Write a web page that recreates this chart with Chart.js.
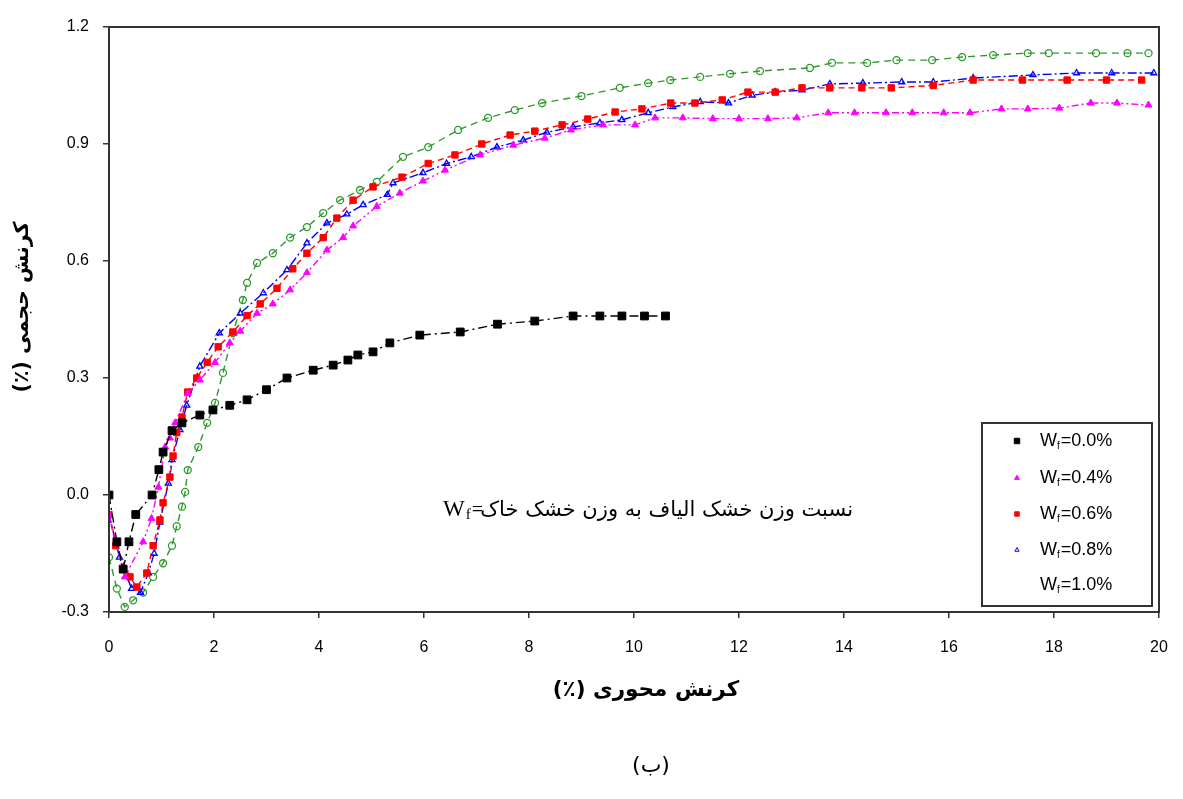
<!DOCTYPE html>
<html>
<head>
<meta charset="utf-8">
<script src="https://cdn.jsdelivr.net/npm/chart.js@4.4.1/dist/chart.umd.min.js"></script>
<style>
  html, body { margin: 0; padding: 0; background: #fff; }
  #wrap { width: 1183px; height: 799px; }
</style>
</head>
<body>
<div id="wrap"><canvas id="chart" width="1183" height="799"></canvas></div>
<script>
// axial strain (%) and volumetric strain (%), one pair per fibre content
const strainW00 = [0, 0.15, 0.27, 0.38, 0.51, 0.82, 0.95, 1.03, 1.2, 1.39, 1.73, 1.98, 2.3, 2.63, 3.0, 3.39, 3.89, 4.27, 4.55, 4.74, 5.03, 5.35, 5.92, 6.69, 7.4, 8.11, 8.84, 9.35, 9.77, 10.2, 10.6]
const volW00 = [0.0, -0.12, -0.19, -0.12, -0.05, 0.0, 0.065, 0.11, 0.165, 0.185, 0.205, 0.218, 0.23, 0.244, 0.27, 0.30, 0.32, 0.333, 0.346, 0.359, 0.367, 0.39, 0.41, 0.418, 0.438, 0.446, 0.459, 0.459, 0.459, 0.459, 0.459]

const strainW04 = [0, 0.3, 0.65, 0.81, 0.94, 1.07, 1.16, 1.26, 1.5, 1.73, 2.02, 2.3, 2.5, 2.82, 3.12, 3.45, 3.77, 4.15, 4.46, 4.65, 5.1, 5.54, 5.98, 6.4, 7.07, 7.7, 8.3, 8.8, 9.41, 10.02, 10.4, 10.93, 11.5, 12.0, 12.55, 13.1, 13.7, 14.2, 14.8, 15.3, 15.9, 16.4, 17.0, 17.5, 18.1, 18.7, 19.2, 19.8]
const volW04 = [-0.05, -0.21, -0.12, -0.06, 0.02, 0.123, 0.146, 0.185, 0.26, 0.295, 0.34, 0.39, 0.42, 0.466, 0.49, 0.526, 0.57, 0.628, 0.66, 0.69, 0.74, 0.774, 0.805, 0.833, 0.872, 0.897, 0.915, 0.936, 0.949, 0.949, 0.967, 0.967, 0.965, 0.965, 0.965, 0.967, 0.98, 0.98, 0.98, 0.98, 0.98, 0.98, 0.99, 0.99, 0.992, 1.005, 1.005, 1.0]

const strainW06 = [0, 0.13, 0.4, 0.53, 0.72, 0.84, 0.97, 1.03, 1.16, 1.22, 1.29, 1.39, 1.5, 1.67, 1.87, 2.08, 2.36, 2.63, 2.88, 3.2, 3.5, 3.77, 4.08, 4.34, 4.65, 5.03, 5.58, 6.08, 6.59, 7.1, 7.64, 8.11, 8.63, 9.12, 9.64, 10.15, 10.7, 11.16, 11.68, 12.17, 12.69, 13.2, 13.73, 14.34, 14.9, 15.7, 16.46, 17.4, 18.25, 19.0, 19.67]
const volW06 = [-0.05, -0.13, -0.21, -0.236, -0.2, -0.13, -0.064, -0.02, 0.046, 0.1, 0.16, 0.2, 0.264, 0.3, 0.34, 0.38, 0.418, 0.46, 0.49, 0.53, 0.58, 0.62, 0.66, 0.71, 0.756, 0.79, 0.815, 0.85, 0.872, 0.9, 0.923, 0.933, 0.949, 0.964, 0.982, 0.99, 1.005, 1.005, 1.013, 1.033, 1.033, 1.044, 1.044, 1.044, 1.044, 1.05, 1.064, 1.064, 1.064, 1.064, 1.064]

const strainW08 = [0, 0.2, 0.43, 0.6, 0.75, 0.86, 0.97, 1.13, 1.2, 1.35, 1.48, 1.73, 2.1, 2.5, 2.94, 3.39, 3.77, 4.15, 4.53, 4.84, 5.3, 5.41, 5.98, 6.43, 6.9, 7.39, 7.89, 8.34, 8.84, 9.35, 9.77, 10.27, 10.74, 11.26, 11.8, 12.25, 12.69, 13.2, 13.73, 14.36, 15.1, 15.7, 16.46, 17.6, 18.43, 19.1, 19.9]
const volW08 = [-0.05, -0.16, -0.24, -0.25, -0.2, -0.15, -0.07, 0.03, 0.09, 0.167, 0.23, 0.33, 0.415, 0.466, 0.518, 0.577, 0.646, 0.697, 0.72, 0.744, 0.77, 0.8, 0.826, 0.85, 0.867, 0.892, 0.91, 0.93, 0.944, 0.954, 0.962, 0.98, 0.995, 1.008, 1.005, 1.025, 1.033, 1.038, 1.054, 1.056, 1.059, 1.059, 1.069, 1.077, 1.082, 1.082, 1.082]

const strainW10 = [0, 0.15, 0.3, 0.46, 0.65, 0.84, 1.03, 1.2, 1.29, 1.39, 1.45, 1.5, 1.7, 1.87, 2.02, 2.17, 2.36, 2.55, 2.63, 2.82, 3.12, 3.45, 3.77, 4.08, 4.4, 4.78, 5.1, 5.6, 6.08, 6.65, 7.22, 7.73, 8.25, 9.0, 9.73, 10.27, 10.69, 11.26, 11.83, 12.4, 13.35, 13.77, 14.44, 15.0, 15.68, 16.25, 16.84, 17.5, 17.9, 18.8, 19.4, 19.8]
const volW10 = [-0.16, -0.24, -0.287, -0.27, -0.25, -0.21, -0.175, -0.13, -0.08, -0.03, 0.008, 0.064, 0.123, 0.185, 0.236, 0.313, 0.415, 0.5, 0.544, 0.595, 0.62, 0.66, 0.687, 0.723, 0.756, 0.782, 0.803, 0.867, 0.892, 0.936, 0.967, 0.987, 1.005, 1.023, 1.044, 1.056, 1.064, 1.072, 1.08, 1.087, 1.095, 1.108, 1.108, 1.115, 1.115, 1.123, 1.128, 1.133, 1.133, 1.133, 1.133, 1.133]

const seriesLabels = ['0.0%', '0.4%', '0.6%', '0.8%', '1.0%']
const xTickValues = [0, 2, 4, 6, 8, 10, 12, 14, 16, 18, 20]
const yTickValues = [-0.3, 0.0, 0.3, 0.6, 0.9, 1.2]

const xTitle = 'کرنش محوری (٪)'
const yTitle = 'کرنش حجمی (٪)'
const noteText = 'نسبت وزن خشک الیاف به وزن خشک خاک'
const caption = '(ب)'

const pairs = (xs, ys) => xs.map((x, i) => ({ x: x, y: ys[i] }))

const styles = [
    { color: '#000000', point: 'rect', radius: 5.5, fill: true, dash: [9, 4, 2, 4] },
    { color: '#ff00ff', point: 'triangle', radius: 4, fill: true, dash: [7, 3, 2, 3, 2, 3] },
    { color: '#ff0000', point: 'rect', radius: 4.5, fill: true, dash: [6, 4] },
    { color: '#0000ff', point: 'triangle', radius: 3.5, fill: false, dash: [9, 3, 2, 3] },
    { color: '#2e9a2e', point: 'circle', radius: 3.5, fill: false, dash: [7, 5] }
]
const allData = [
    pairs(strainW00, volW00),
    pairs(strainW04, volW04),
    pairs(strainW06, volW06),
    pairs(strainW08, volW08),
    pairs(strainW10, volW10)
]

const datasets = allData.map((d, i) => ({
    label: seriesLabels[i],
    data: d,
    borderColor: styles[i].color,
    backgroundColor: styles[i].fill ? styles[i].color : '#ffffff',
    pointBorderColor: styles[i].color,
    pointBackgroundColor: styles[i].fill ? styles[i].color : 'rgba(255,255,255,0)',
    pointStyle: styles[i].point,
    pointRadius: styles[i].radius,
    pointBorderWidth: styles[i].fill ? 1 : 1.3,
    borderWidth: 1.4,
    borderDash: styles[i].dash,
    tension: 0,
    showLine: true
}))

// frame, legend box and all the Persian texts
const decorations = {
    id: 'decorations',
    afterDatasetsDraw(chart) {
        const ctx = chart.ctx
        const a = chart.chartArea
        ctx.save()
        ctx.strokeStyle = '#333'
        ctx.lineWidth = 2
        ctx.setLineDash([])
        ctx.strokeRect(a.left, a.top, a.right - a.left, a.bottom - a.top)

        // legend
        const lx = 982, ly = 423, lw = 170, lh = 183
        ctx.fillStyle = '#fff'
        ctx.fillRect(lx, ly, lw, lh)
        ctx.strokeStyle = '#333'
        ctx.strokeRect(lx, ly, lw, lh)
        const rows = [441, 478, 514, 550, 585]
        seriesLabels.forEach((lab, i) => {
            const y = rows[i]
            if (i < 4) {
                const st = styles[i]
                ctx.fillStyle = st.fill ? st.color : '#fff'
                ctx.strokeStyle = st.color
                ctx.lineWidth = 1
                Chart.helpers.drawPoint(ctx, { pointStyle: st.point, radius: st.radius * 0.7, borderWidth: 1 }, 1017, y)
            }
            ctx.fillStyle = '#000'
            ctx.textAlign = 'left'
            ctx.textBaseline = 'middle'
            ctx.font = '18px "Liberation Sans", Arial, sans-serif'
            let x = 1040
            ctx.fillText('W', x, y)
            x += ctx.measureText('W').width
            ctx.font = '10px "Liberation Sans", Arial, sans-serif'
            ctx.fillText('f', x, y + 5)
            x += ctx.measureText('f').width + 1
            ctx.font = '18px "Liberation Sans", Arial, sans-serif'
            ctx.fillText('=' + lab, x, y)
        })

        // note inside the plot
        ctx.fillStyle = '#000'
        ctx.textBaseline = 'alphabetic'
        ctx.textAlign = 'left'
        ctx.font = '23px "Liberation Serif", "Times New Roman", serif'
        let nx = 443
        ctx.fillText('W', nx, 516)
        nx += ctx.measureText('W').width
        ctx.font = '15px "Liberation Serif", "Times New Roman", serif'
        ctx.fillText('f', nx + 1, 519)
        nx += ctx.measureText('f').width + 2
        ctx.font = '20px "Liberation Serif", "Times New Roman", serif'
        ctx.fillText('=', nx, 516)
        ctx.font = '21px "DejaVu Sans", sans-serif'
        ctx.direction = 'rtl'
        ctx.textAlign = 'right'
        ctx.fillText(noteText, 853, 516)

        // axis titles and caption (right-to-left text)
        ctx.textAlign = 'center'
        ctx.textBaseline = 'middle'
        ctx.font = 'bold 21.5px "DejaVu Sans", sans-serif'
        ctx.fillText(xTitle, 646, 690)
        ctx.save()
        ctx.translate(23, 307)
        ctx.rotate(-Math.PI / 2)
        ctx.font = 'bold 20.5px "DejaVu Sans", sans-serif'
        ctx.fillText(yTitle, 0, 0)
        ctx.restore()
        ctx.font = '22px "DejaVu Sans", sans-serif'
        ctx.fillText(caption, 651, 766)
        ctx.restore()
    }
}

new Chart(document.getElementById('chart'), {
    type: 'scatter',
    data: { datasets: datasets },
    options: {
        responsive: false,
        animation: false,
        layout: { padding: { top: 27, right: 24, left: 0, bottom: 0 } },
        plugins: {
            legend: { display: false },
            tooltip: { enabled: false }
        },
        scales: {
            x: {
                type: 'linear',
                min: 0,
                max: 20,
                afterBuildTicks: s => { s.ticks = xTickValues.map(v => ({ value: v })) },
                afterFit: s => { s.height = 187; s.paddingRight = 0; s.paddingLeft = 0 },
                border: { display: false },
                grid: { display: true, drawOnChartArea: false, drawTicks: true, tickLength: 6, color: '#333', lineWidth: 1.5 },
                ticks: {
                    color: '#000',
                    padding: 20,
                    maxRotation: 0,
                    font: { family: '"Liberation Sans", Arial, sans-serif', size: 16 },
                    callback: v => String(v)
                }
            },
            y: {
                type: 'linear',
                min: -0.3,
                max: 1.2,
                afterBuildTicks: s => { s.ticks = yTickValues.map(v => ({ value: v })) },
                afterFit: s => { s.width = 109; s.paddingTop = 0; s.paddingBottom = 0 },
                border: { display: false },
                grid: { display: true, drawOnChartArea: false, drawTicks: true, tickLength: 6, color: '#333', lineWidth: 1.5 },
                ticks: {
                    color: '#000',
                    padding: 14,
                    font: { family: '"Liberation Sans", Arial, sans-serif', size: 16 },
                    callback: v => Number(v).toFixed(1)
                }
            }
        }
    },
    plugins: [decorations]
})
</script>
</body>
</html>
